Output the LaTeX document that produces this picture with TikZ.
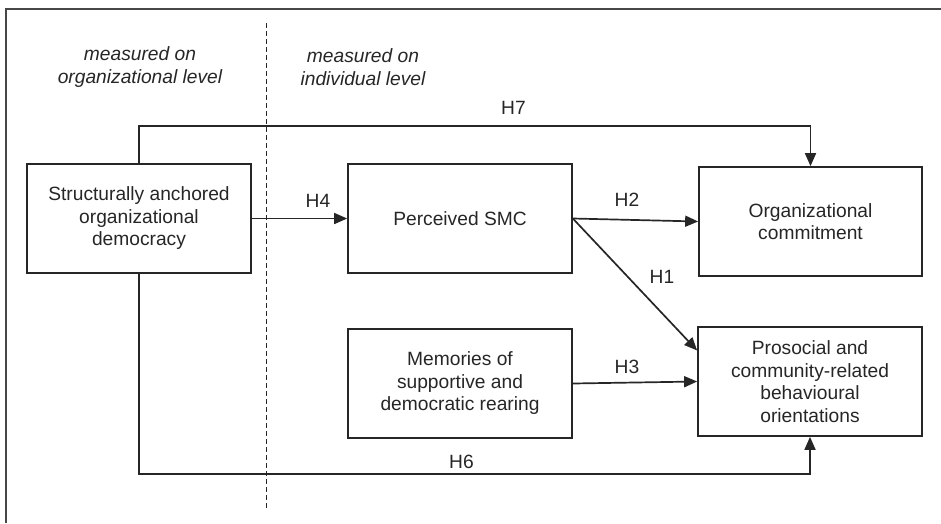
\documentclass[tikz,border=0pt]{standalone}
\usepackage{fontspec}
\setmainfont{Liberation Sans}
\usetikzlibrary{arrows.meta}
\definecolor{ink}{HTML}{262626}
\begin{document}
\begin{tikzpicture}[x=1pt,y=-1pt,
  every node/.style={text=ink,font=\fontsize{19.2}{22.5}\selectfont},
  box/.style={draw=ink,line width=1.7pt,rectangle,minimum width=224pt,minimum height=109pt,align=center,inner sep=0pt},
  conn/.style={draw=ink,line width=1.7pt},
  arr/.style={conn,-{Triangle[length=13pt,width=11pt]}},
  frame/.style={draw=ink!85,line width=1.1pt},
  lab/.style={inner sep=0pt}]
\useasboundingbox (0,0) rectangle (941,523);
% frame
\coordinate (f1) at (6,523);
\coordinate (f2) at (6,9);
\coordinate (f3) at (941,9);
\draw[frame] (f1) -- (f2) -- (f3);
% dashed divider
\coordinate (d1) at (266.5,23);
\coordinate (d2) at (266.5,508);
\draw[draw=ink,line width=1.4pt,dash pattern=on 5pt off 3pt] (d1) -- (d2);
% headings
\node[lab,align=center,font=\fontsize{19.2}{22.5}\selectfont\itshape] (hl) at (140,67) {measured on\\organizational level};
\node[lab,align=center,font=\fontsize{19.2}{22.5}\selectfont\itshape] (hr) at (363,67) {measured on\\individual level};
% boxes
\node[box] (A) at (139,218.5) {Structurally anchored\\organizational\\democracy};
\node[box] (B) at (460,218.5) {Perceived SMC};
\node[box,minimum width=223pt] (C) at (810.5,221.5) {Organizational\\commitment};
\node[box] (D) at (460,383.5) {Memories of\\supportive and\\democratic rearing};
\node[box] (E) at (810,381.5) {Prosocial and\\community-related\\behavioural\\orientations};
% connectors
\coordinate (t7) at (810.5,126);
\coordinate (b6) at (810,474);
\draw[arr] (A.north) |- (t7) -- (C.north);
\draw[arr] (A.east) -- (B.west);
\draw[arr] (B.east) -- (C.west);
\draw[arr] (B.east) -- ([yshift=31pt]E.west);
\draw[arr] (D.east) -- (E.west);
\draw[arr] (A.south) |- (b6) -- (E.south);
% labels
\node[lab] (l7) at (513.5,108) {H7};
\node[lab] (l4) at (318,201) {H4};
\node[lab] (l2) at (627,200) {H2};
\node[lab] (l1) at (662,277) {H1};
\node[lab] (l3) at (627,367) {H3};
\node[lab] (l6) at (461.5,462) {H6};
\end{tikzpicture}
\end{document}
